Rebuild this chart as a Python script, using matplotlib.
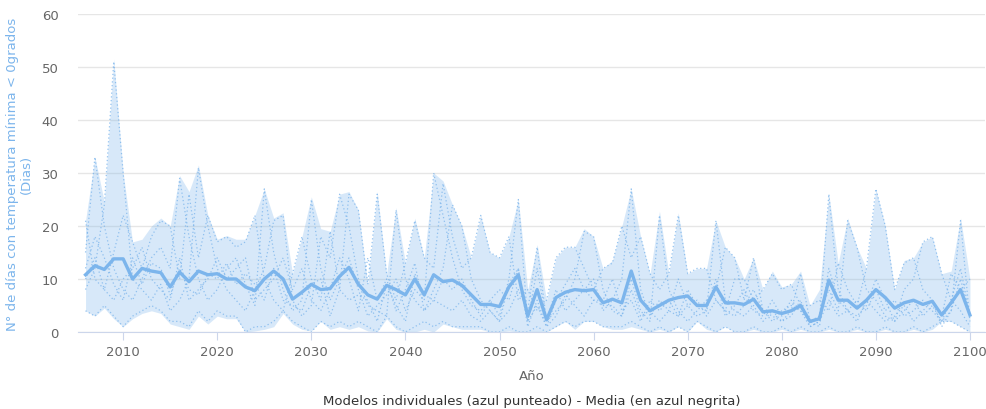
import matplotlib

matplotlib.use("Agg")
import matplotlib.pyplot as plt
import numpy as np

years = list(range(2006, 2101))

media = [10.8, 12.5, 11.8, 13.8, 13.8, 10.0, 12.0, 11.5, 11.2, 8.5,
         11.3, 9.5, 11.5, 10.8, 11.0, 10.0, 10.0, 8.5, 7.8, 10.0,
         11.5, 10.0, 6.2, 7.5, 9.0, 8.0, 8.2, 10.5, 12.2, 9.0,
         7.0, 6.2, 8.8, 8.0, 7.0, 10.0, 7.0, 10.8, 9.5, 9.8,
         8.8, 7.0, 5.2, 5.2, 4.8, 8.5, 10.8, 3.0, 8.0, 2.3,
         6.5, 7.5, 8.0, 7.8, 8.0, 5.5, 6.2, 5.5, 11.5, 6.0,
         4.0, 5.0, 6.0, 6.5, 6.8, 5.0, 5.0, 8.5, 5.5, 5.5,
         5.2, 6.2, 3.8, 4.0, 3.5, 4.0, 5.0, 2.0, 2.5, 9.8,
         6.0, 6.0, 4.5, 6.0, 8.0, 6.5, 4.5, 5.5, 6.0, 5.2,
         5.8, 3.2, 5.5, 8.0, 3.2]

maximo = [21, 33, 24.5, 51.5, 30, 17, 17.5, 20, 21.5, 20,
          29.5, 26.5, 31.5, 22, 17.5, 18.2, 17.5, 17.5, 22, 27,
          21.5, 22.5, 11, 18, 25.5, 19.5, 19, 26, 26.5, 23,
          9, 26.5, 11, 23.5, 13, 21.5, 14, 30, 28.5, 24,
          20, 14, 22, 15, 14, 18, 25, 8, 16.5, 6,
          14, 16, 16, 19.5, 18, 12, 13.5, 20, 27, 18,
          11, 22.8, 11, 22.5, 11, 12, 12, 21, 16, 14,
          10, 14, 8, 11.5, 8.5, 9, 11.5, 5, 8, 26,
          13, 21.5, 16, 12, 27, 20, 8, 13.5, 14, 17,
          18, 11, 11.5, 21.5, 10]

minimo = [4.0, 3.0, 4.5, 2.5, 1.0, 2.5, 3.5, 4.0, 3.5, 1.5,
          1.0, 0.5, 3.0, 1.5, 3.0, 2.5, 2.5, 0.0, 0.2, 0.5,
          1.0, 3.5, 1.5, 0.5, 0.2, 2.0, 0.5, 1.0, 0.5, 1.0,
          0.2, 0.0, 2.5, 0.5, 0.0, 0.0, 0.5, 0.0, 1.5, 1.0,
          0.5, 0.5, 0.5, 0.0, 0.0, 0.2, 0.0, 0.0, 0.0, 0.0,
          1.0, 2.0, 0.5, 2.0, 2.0, 1.0, 0.5, 0.5, 1.0, 0.5,
          0.0, 0.5, 0.0, 1.0, 0.0, 2.0, 0.5, 0.0, 1.0, 0.0,
          0.0, 0.5, 0.0, 0.0, 0.5, 0.0, 0.5, 0.0, 0.0, 0.5,
          0.0, 0.0, 0.5, 0.0, 0.0, 0.5, 0.0, 0.0, 0.5, 0.0,
          0.5, 2.0, 2.0, 1.0, 0.0]

modelo_1 = [15, 33, 20, 12, 8, 6, 10, 14, 16, 12,
            29, 18, 10, 6, 8, 12, 14, 9, 5, 27,
            15, 8, 4, 6, 25, 12, 6, 10, 14, 8,
            3, 5, 7, 10, 4, 8, 6, 30, 22, 14,
            8, 5, 4, 6, 3, 10, 25, 2, 5, 1,
            6, 9, 12, 8, 10, 4, 6, 10, 27, 8,
            3, 6, 4, 10, 5, 3, 4, 21, 6, 4,
            3, 5, 2, 4, 2, 3, 6, 1, 2, 26,
            8, 4, 3, 5, 10, 6, 2, 4, 6, 3,
            5, 2, 4, 21, 2]

modelo_2 = [8, 12, 24, 51, 30, 10, 8, 6, 9, 4,
            6, 10, 31, 20, 12, 8, 6, 4, 8, 12,
            21, 22, 6, 3, 5, 18, 14, 26, 20, 10,
            5, 4, 3, 23, 10, 6, 4, 8, 12, 24,
            20, 10, 6, 4, 2, 4, 8, 4, 16, 2,
            4, 6, 10, 19, 18, 8, 4, 3, 10, 4,
            2, 22, 8, 4, 2, 4, 6, 8, 16, 14,
            6, 14, 4, 3, 2, 4, 11, 2, 3, 8,
            4, 21, 16, 8, 6, 3, 2, 8, 10, 17,
            18, 11, 6, 4, 1]

modelo_3 = [21, 10, 8, 15, 22, 17, 12, 18, 21, 20,
            10, 26, 14, 22, 17, 18, 16, 17, 22, 10,
            6, 4, 11, 18, 10, 6, 19, 8, 26, 23,
            9, 26, 11, 6, 13, 21, 14, 12, 28, 18,
            12, 14, 22, 15, 14, 18, 6, 8, 4, 6,
            14, 16, 16, 12, 8, 12, 13, 20, 14, 18,
            11, 8, 11, 22, 11, 12, 12, 6, 4, 10,
            10, 6, 8, 11, 8, 9, 5, 5, 6, 4,
            13, 8, 5, 12, 27, 20, 8, 13, 14, 8,
            6, 3, 11, 8, 10]

modelo_4 = [4, 3, 5, 3, 1, 3, 4, 5, 4, 2,
            2, 1, 4, 2, 4, 3, 3, 0, 1, 1,
            2, 4, 2, 1, 0, 2, 1, 2, 1, 2,
            1, 0, 3, 1, 0, 1, 2, 1, 2, 1,
            1, 1, 1, 0, 0, 1, 0, 0, 1, 0,
            1, 2, 1, 2, 2, 1, 1, 1, 2, 1,
            0, 1, 0, 1, 0, 2, 1, 0, 1, 0,
            0, 1, 0, 0, 1, 0, 1, 0, 0, 1,
            0, 0, 1, 0, 0, 1, 0, 0, 1, 0,
            1, 2, 2, 1, 0]

modelo_5 = [10, 14, 8, 6, 10, 12, 16, 10, 8, 6,
            14, 6, 8, 10, 14, 10, 12, 14, 6, 8,
            10, 14, 8, 12, 6, 4, 8, 14, 10, 4,
            14, 6, 10, 4, 8, 13, 4, 6, 10, 8,
            10, 6, 3, 6, 8, 6, 12, 2, 12, 2,
            8, 4, 6, 8, 6, 6, 10, 4, 6, 2,
            6, 4, 6, 3, 8, 5, 4, 10, 3, 5,
            8, 4, 3, 6, 3, 6, 4, 2, 1, 12,
            6, 4, 6, 4, 8, 4, 6, 3, 4, 6,
            4, 2, 6, 12, 3]

modelo_6 = [12, 18, 14, 9, 6, 14, 9, 13, 12, 7,
            12, 8, 7, 11, 10, 13, 9, 11, 9, 6,
            12, 6, 5, 4, 9, 10, 3, 8, 6, 7,
            6, 2, 9, 5, 2, 11, 7, 6, 5, 4,
            6, 3, 2, 4, 2, 9, 12, 1, 6, 1,
            3, 7, 5, 3, 6, 5, 5, 3, 8, 3,
            4, 2, 4, 3, 5, 6, 3, 6, 4, 3,
            5, 8, 4, 2, 4, 5, 4, 1, 2, 6,
            3, 4, 2, 6, 4, 2, 3, 5, 2, 4,
            6, 1, 4, 10, 3]

modelos = [modelo_1, modelo_2, modelo_3, modelo_4, modelo_5, modelo_6]

AZUL = "#7cb5ec"
GRIS = "#666666"

fig = plt.figure(figsize=(9.87, 4.10), dpi=100)
ax = fig.add_axes([78 / 987, 1 - 333 / 410, 907 / 987, 318 / 410])

ax.fill_between(years, minimo, maximo, color=AZUL, alpha=0.3, lw=0, zorder=1)
for m in modelos:
    ax.plot(years, m, color=AZUL, lw=0.9, ls=(0, (1, 2)), alpha=0.8, zorder=2)
ax.plot(years, media, color=AZUL, lw=2.4, solid_joinstyle="round", zorder=3)

ax.set_xlim(2005.2, 2101.6)
ax.set_ylim(0, 60)
ax.set_yticks(range(0, 61, 10))
ax.set_xticks(range(2010, 2101, 10))
ax.grid(axis="y", color="#e6e6e6", lw=1)
ax.set_axisbelow(True)
for s in ["top", "right", "left"]:
    ax.spines[s].set_visible(False)
ax.spines["bottom"].set_color("#ccd6eb")
ax.tick_params(axis="y", length=0, labelcolor=GRIS, labelsize=9.5, pad=14)
ax.tick_params(axis="x", length=6, color="#ccd6eb", labelcolor=GRIS, labelsize=9.5, pad=3)

ax.set_xlabel("Año", color=GRIS, fontsize=9.5, labelpad=8)
ax.set_ylabel("N° de días con temperatura mínima < 0grados\n(Dias)", color=AZUL,
              fontsize=9.5, labelpad=6, linespacing=1.1)
fig.text(0.5 * (78 + 985) / 987, 1 - 402 / 410,
         "Modelos individuales (azul punteado) - Media (en azul negrita)",
         ha="center", va="center", color="#333333", fontsize=9.5)

fig.savefig("out.png", dpi=100)
